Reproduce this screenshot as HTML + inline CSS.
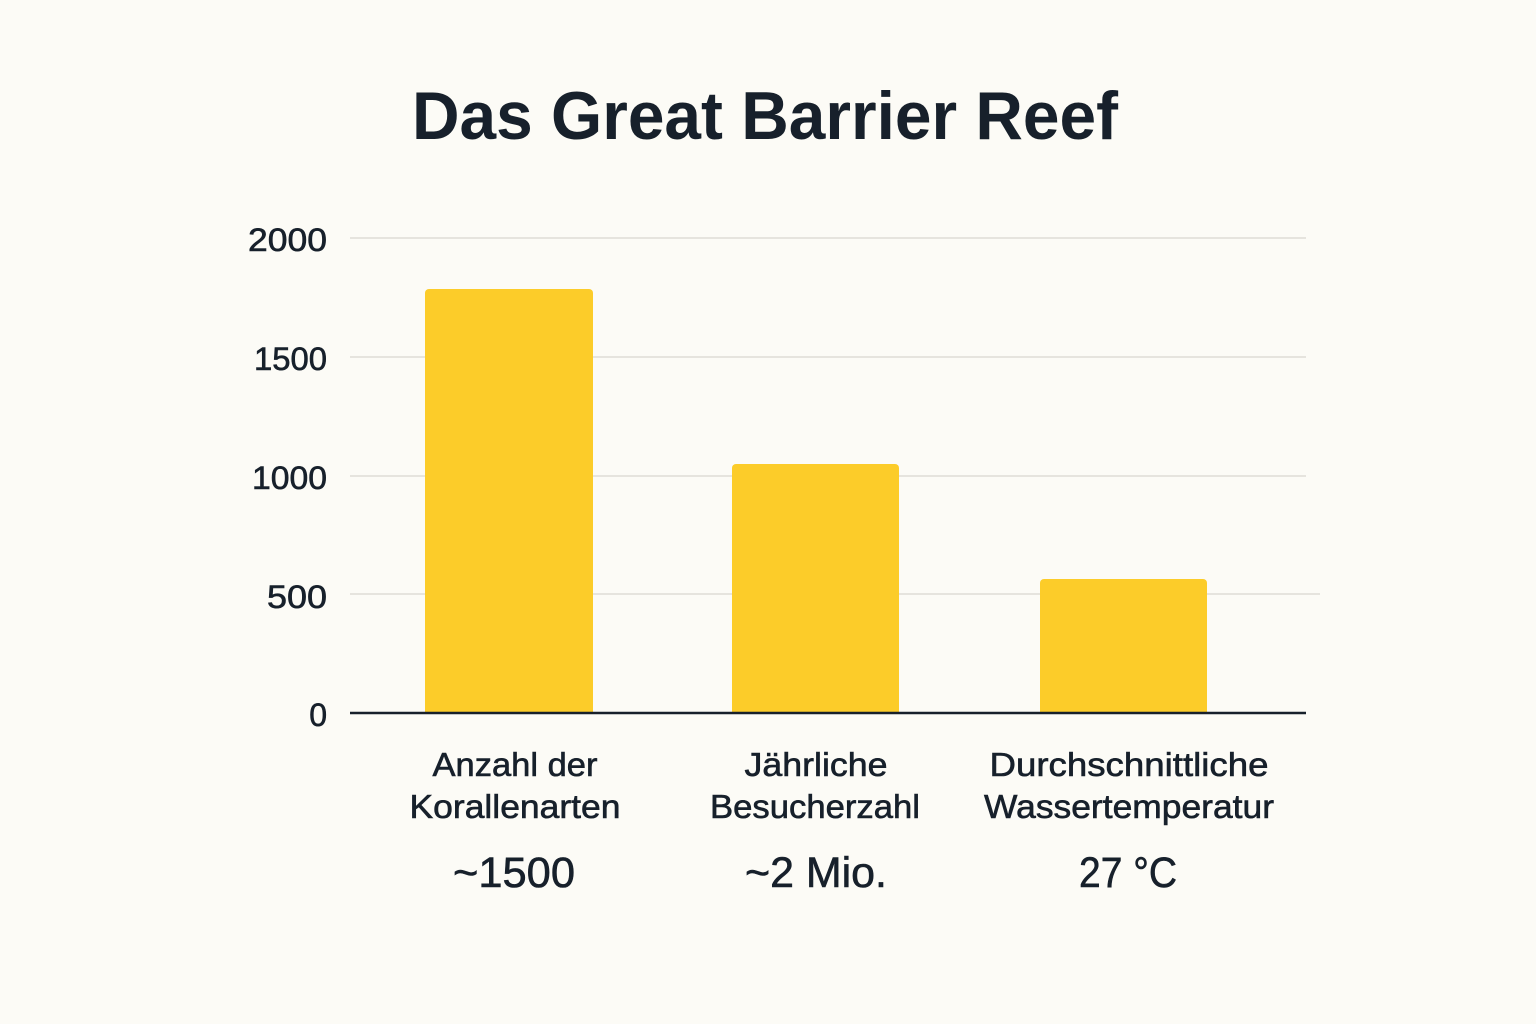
<!DOCTYPE html>
<html><head><meta charset="utf-8"><style>
html,body{margin:0;padding:0;background:#fcfbf6;}
svg{display:block}
text{font-family:"Liberation Sans",sans-serif;fill:#17202b}
.m{stroke:#17202b;stroke-width:0.6}
</style></head><body>
<svg width="1536" height="1024" viewBox="0 0 1536 1024">
<rect width="1536" height="1024" fill="#fcfbf6"/>
<text x="765" y="139" text-anchor="middle" font-size="68" font-weight="bold" textLength="706" lengthAdjust="spacingAndGlyphs">Das Great Barrier Reef</text>
<g stroke="#dedcd6" stroke-width="1.5">
<line x1="350" y1="238" x2="1306" y2="238"/>
<line x1="350" y1="357" x2="1306" y2="357"/>
<line x1="350" y1="476" x2="1306" y2="476"/>
<line x1="350" y1="594" x2="1320" y2="594"/>
</g>
<g font-size="32" text-anchor="end" class="m">
<text x="327" y="251" textLength="79" lengthAdjust="spacingAndGlyphs">2000</text>
<text x="327" y="370" textLength="73" lengthAdjust="spacingAndGlyphs">1500</text>
<text x="327" y="489" textLength="75" lengthAdjust="spacingAndGlyphs">1000</text>
<text x="327" y="608" textLength="60" lengthAdjust="spacingAndGlyphs">500</text>
<text x="327" y="726">0</text>
</g>
<g fill="#fccc29">
<path d="M425 713 V293 a4 4 0 0 1 4 -4 H589 a4 4 0 0 1 4 4 V713 Z"/>
<path d="M732 713 V468 a4 4 0 0 1 4 -4 H895 a4 4 0 0 1 4 4 V713 Z"/>
<path d="M1040 713 V583 a4 4 0 0 1 4 -4 H1203 a4 4 0 0 1 4 4 V713 Z"/>
</g>
<line x1="350" y1="713" x2="1306" y2="713" stroke="#17202b" stroke-width="2.5"/>
<g font-size="33" text-anchor="middle" class="m">
<text x="515" y="776" textLength="165" lengthAdjust="spacingAndGlyphs">Anzahl der</text>
<text x="515" y="818" textLength="211" lengthAdjust="spacingAndGlyphs">Korallenarten</text>
<text x="816" y="776" textLength="143" lengthAdjust="spacingAndGlyphs">Jährliche</text>
<text x="815" y="818" textLength="210" lengthAdjust="spacingAndGlyphs">Besucherzahl</text>
<text x="1129" y="776" textLength="279" lengthAdjust="spacingAndGlyphs">Durchschnittliche</text>
<text x="1129" y="818" textLength="290" lengthAdjust="spacingAndGlyphs">Wassertemperatur</text>
</g>
<g font-size="43" text-anchor="middle" class="m">
<text x="514" y="887" textLength="122" lengthAdjust="spacingAndGlyphs">~1500</text>
<text x="816" y="887" textLength="142" lengthAdjust="spacingAndGlyphs">~2 Mio.</text>
<text x="1128" y="887" textLength="98" lengthAdjust="spacingAndGlyphs">27 °C</text>
</g>
</svg>
</body></html>
